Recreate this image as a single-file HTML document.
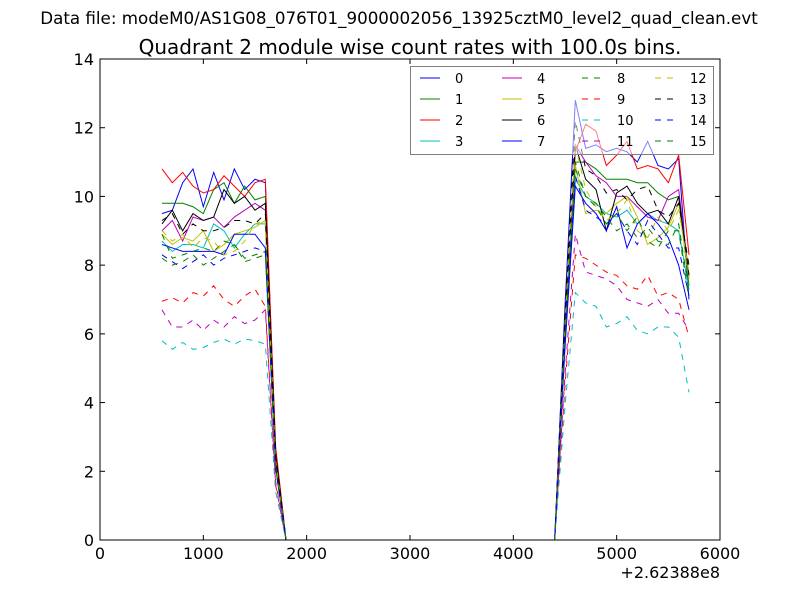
<!DOCTYPE html>
<html><head><meta charset="utf-8"><style>
body{margin:0;background:#fff;}
svg text{font-family:"DejaVu Sans","Liberation Sans",sans-serif;}
</style></head><body>
<svg id="chart" width="800" height="600" xmlns="http://www.w3.org/2000/svg">
<rect width="800" height="600" fill="#fff"/>
<text x="399" y="24" font-size="16.7" text-anchor="middle">Data file: modeM0/AS1G08_076T01_9000002056_13925cztM0_level2_quad_clean.evt</text>
<text x="410" y="54" font-size="20" text-anchor="middle">Quadrant 2 module wise count rates with 100.0s bins.</text>
<g id="plot"></g>
<g id="axes"></g>
<g id="legend"></g>
</svg>
<script>
const names=["0","1","2","3","4","5","6","7","8","9","10","11","12","13","14","15"];
const colors=["#0000ff","#008000","#ff0000","#00bfbf","#bf00bf","#bfbf00","#000000","#0000ff","#008000","#ff0000","#00bfbf","#bf00bf","#bfbf00","#000000","#0000ff","#008000"];
const xTicks=[0,1000,2000,3000,4000,5000,6000];
const yTicks=[0,2,4,6,8,10,12,14];
const leftTimes=[600,700,800,900,1000,1100,1200,1300,1400,1500,1600,1700,1800];
const zeroTimes=[1900,2000,2100,2200,2300,2400,2500,2600,2700,2800,2900,3000,3100,3200,3300,3400,3500,3600,3700,3800,3900,4000,4100,4200,4300,4400];
const rightTimes=[4500,4600,4700,4800,4900,5000,5100,5200,5300,5400,5500,5600,5700];
const leftVals=[
[9.5,9.6,10.4,10.8,9.7,10.7,9.9,10.8,10.2,10.5,10.4,2.6,0],
[9.8,9.8,9.8,9.7,9.5,10.2,10.4,9.8,10.3,9.9,10.0,2.5,0],
[10.8,10.4,10.7,10.3,10.1,10.2,10.6,10.3,10.0,10.4,10.5,2.7,0],
[8.7,8.4,8.6,8.6,8.5,9.2,9.0,8.5,8.9,9.2,9.2,2.3,0],
[9.0,9.3,8.7,9.4,9.3,9.4,9.1,9.4,9.6,9.8,9.6,2.4,0],
[8.9,8.6,8.8,8.7,9.0,8.4,8.6,8.9,9.0,9.1,9.3,2.3,0],
[9.2,9.6,9.0,9.5,9.3,9.4,10.2,9.8,10.0,9.6,9.8,2.5,0],
[8.6,8.5,8.4,8.4,8.4,8.4,8.3,8.9,8.9,8.9,8.5,2.1,0],
[8.9,8.2,8.3,8.4,8.5,8.4,8.7,8.6,8.2,8.3,8.4,2.1,0],
[6.95,7.05,6.9,7.2,7.1,7.4,7.0,6.8,7.1,7.3,6.8,1.7,0],
[5.8,5.55,5.75,5.55,5.6,5.75,5.85,5.7,5.85,5.8,5.7,1.4,0],
[6.7,6.2,6.2,6.4,6.1,6.4,6.2,6.5,6.3,6.4,6.7,1.6,0],
[9.0,8.7,8.9,8.5,8.8,8.7,8.3,8.4,8.7,9.2,9.3,2.3,0],
[9.3,9.5,8.9,9.2,9.0,9.0,9.1,9.3,9.3,9.2,9.5,2.4,0],
[8.3,8.1,7.9,8.1,8.3,8.0,8.2,8.3,8.4,8.5,8.4,2.1,0],
[8.2,8.0,8.1,8.3,8.0,8.2,8.4,8.6,8.1,8.2,8.3,2.1,0]];
const rightVals=[
[6.8,12.8,11.4,11.5,11.3,11.4,11.3,11.0,11.6,10.9,10.8,11.1,7.0],
[6.0,11.0,11.0,10.8,10.5,10.5,10.5,10.4,10.4,10.1,9.9,10.0,7.4],
[6.1,11.3,12.1,11.9,10.9,11.2,11.6,10.8,10.9,10.8,10.4,11.2,8.3],
[5.7,10.5,10.0,9.8,9.5,9.4,9.6,9.2,9.5,9.3,9.2,9.0,7.3],
[6.2,11.5,11.0,10.6,10.4,10.0,10.0,9.7,9.4,9.3,10.0,10.2,7.7],
[5.9,10.9,9.5,9.6,9.5,9.8,10.0,9.4,8.6,8.8,9.1,9.8,7.6],
[6.2,11.5,10.5,10.2,9.0,10.1,10.3,9.8,9.5,9.6,9.2,10.0,7.7],
[5.6,10.3,9.8,9.5,9.0,9.7,8.5,9.2,9.5,9.2,8.8,8.0,6.7],
[6.0,11.0,10.0,9.8,9.4,9.0,9.2,8.8,9.1,8.7,8.6,9.2,7.2],
[4.5,8.3,8.2,8.0,7.8,7.7,7.4,7.3,7.7,7.1,7.2,7.0,5.9],
[3.9,7.2,6.9,6.8,6.2,6.3,6.5,6.1,6.0,6.2,6.2,5.9,4.3],
[4.8,8.9,7.8,7.7,7.6,7.4,7.0,6.9,6.8,7.0,6.6,6.6,6.1],
[6.2,11.5,10.2,9.7,9.3,9.5,9.9,9.0,8.8,9.4,9.0,9.6,7.8],
[6.6,12.2,10.8,10.6,10.1,10.2,9.9,10.2,10.3,9.6,9.4,9.8,8.0],
[5.8,10.6,9.6,9.4,9.2,9.5,9.0,8.6,9.3,8.9,8.5,8.5,7.1],
[5.9,10.8,10.0,9.7,9.2,9.5,9.0,9.4,8.7,8.5,9.0,9.0,7.0]];

const X0=100,X1=720,Y0=540,Y1=59;
const xs=v=>X0+(v-0)/6000*(X1-X0);
const ys=v=>Y0-(v-0)/14*(Y0-Y1);
const NS="http://www.w3.org/2000/svg";
function mk(tag,attrs,parent){const e=document.createElementNS(NS,tag);for(const k in attrs)e.setAttribute(k,attrs[k]);parent.appendChild(e);return e;}
const plot=document.getElementById('plot');
const axes=document.getElementById('axes');
const legend=document.getElementById('legend');
const clip=mk('clipPath',{id:'pc'},plot);
mk('rect',{x:X0,y:Y1,width:X1-X0,height:Y0-Y1},clip);
const times=leftTimes.concat(zeroTimes,rightTimes);
for(let s=0;s<16;s++){
  const vals=leftVals[s].concat(zeroTimes.map(()=>0),rightVals[s]);
  const d=times.map((t,i)=>(i?'L':'M')+xs(t).toFixed(2)+','+ys(vals[i]).toFixed(2)).join(' ');
  const p=mk('path',{d:d,fill:'none',stroke:colors[s],'stroke-width':1,'clip-path':'url(#pc)'},plot);
  if(s>=8)p.setAttribute('stroke-dasharray','6,6');
  
  
}
const frame=mk('rect',{x:X0,y:Y1,width:X1-X0,height:Y0-Y1,fill:'none',stroke:'#000','stroke-width':1},axes);


xTicks.forEach(t=>{
  const x=xs(t);
  mk('line',{x1:x,x2:x,y1:Y0,y2:Y0-5,stroke:'#000'},axes);
  mk('line',{x1:x,x2:x,y1:Y1,y2:Y1+5,stroke:'#000'},axes);
  const tx=mk('text',{x:x,y:Y0+19,'font-size':16,'text-anchor':'middle'},axes);
  tx.textContent=t;
  
  
});
yTicks.forEach(t=>{
  const y=ys(t);
  mk('line',{x1:X0,x2:X0+5,y1:y,y2:y,stroke:'#000'},axes);
  mk('line',{x1:X1,x2:X1-5,y1:y,y2:y,stroke:'#000'},axes);
  const tx=mk('text',{x:X0-6,y:y+6,'font-size':16,'text-anchor':'end'},axes);
  tx.textContent=t;
  
  
});
const off=mk('text',{x:X1,y:Y0+38,'font-size':16,'text-anchor':'end'},axes);
off.textContent='+2.62388e8';


const lb=mk('rect',{x:410.5,y:66.5,width:303,height:88,fill:'#fff','fill-opacity':0.5,stroke:'#808080','stroke-width':1},legend);


const colX=[420,502,582,655], rowY=[78,99,120,141];
for(let s=0;s<16;s++){
  const c=Math.floor(s/4), r=s%4;
  const g=mk('g',{},legend);
  
  
  const l=mk('line',{x1:colX[c],x2:colX[c]+20,y1:rowY[r],y2:rowY[r],stroke:colors[s],'stroke-width':1},g);
  if(s>=8)l.setAttribute('stroke-dasharray','6,6');
  const t=mk('text',{x:colX[c]+35,y:rowY[r]+5,'font-size':13},g);
  t.textContent=names[s];
}
</script>
</body></html>
